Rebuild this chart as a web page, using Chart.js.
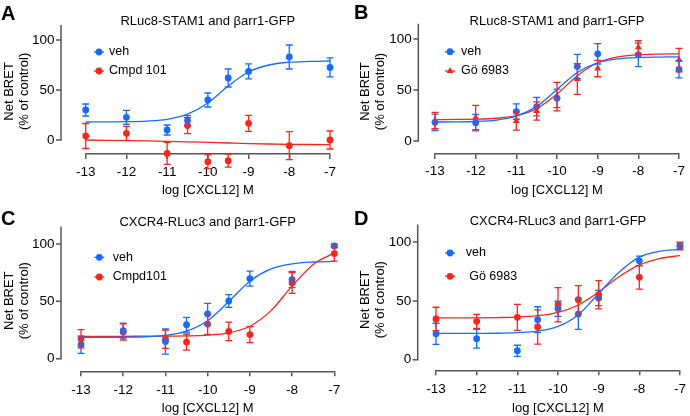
<!DOCTYPE html>
<html>
<head>
<meta charset="utf-8">
<script src="https://cdn.jsdelivr.net/npm/chart.js@4.4.1/dist/chart.umd.min.js"></script>
<style>
html,body{margin:0;padding:0;background:#fff;}
#wrap{position:relative;width:690px;height:416px;overflow:hidden;font-family:"Liberation Sans",Arial,Helvetica,sans-serif;}
.panel{position:absolute;width:345px;height:208px;}
.panel canvas{display:block;}
.letter{position:absolute;font-weight:bold;font-size:20px;line-height:20px;color:#000;}
</style>
</head>
<body>
<div id="wrap">
  <div class="panel" style="left:0;top:0"><canvas id="cA" width="345" height="208"></canvas></div>
  <div class="panel" style="left:345px;top:0"><canvas id="cB" width="345" height="208"></canvas></div>
  <div class="panel" style="left:0;top:208px"><canvas id="cC" width="345" height="208"></canvas></div>
  <div class="panel" style="left:345px;top:208px"><canvas id="cD" width="345" height="208"></canvas></div>
  <div class="letter" style="left:1px;top:3px">A</div>
  <div class="letter" style="left:354px;top:2px">B</div>
  <div class="letter" style="left:1px;top:208px">C</div>
  <div class="letter" style="left:354px;top:208px">D</div>
</div>
<script>
// ---------- shared axis values ----------
const logDose = [-13, -12, -11, -10.5, -10, -9.5, -9, -8, -7];
const fitDose = [-13, -12.5, -12, -11.5, -11, -10.5, -10, -9.5, -9, -8.5, -8, -7.5, -7];
const xTickValues = [-13, -12, -11, -10, -9, -8, -7];
const yTickValues = [0, 50, 100];
const yAxisRange = [0, 115];
const xAxisTitle = 'log [CXCL12] M';
const yAxisTitle = ['Net BRET', '(% of control)'];

// ---------- panel A ----------
const aTitle = 'RLuc8-STAM1 and βarr1-GFP';
const aLabels = ['veh', 'Cmpd 101'];
const aVehMean = [30, 22.7, 10, 19.4, 40, 62, 68.6, 83, 72.6];
const aVehSem  = [6, 7, 5, 5, 7, 9, 7.5, 12, 9.5];
const aCmpMean = [4, 6.7, -13.4, 14.4, -21.7, -20.7, 16.7, -5.7, 0];
const aCmpSem  = [12.5, 7, 11, 8, 7, 6.5, 8, 14, 9];
const aVehFit  = [18, 18.1, 18.3, 18.9, 20.6, 25.8, 37, 54, 68, 75, 77.8, 78.6, 79];
const aCmpFit  = [0, -0.3, -0.6, -0.9, -1.3, -1.8, -2.4, -3.0, -3.6, -4.0, -4.3, -4.5, -4.6];

// ---------- panel B ----------
const bTitle = 'RLuc8-STAM1 and βarr1-GFP';
const bLabels = ['veh', 'Gö 6983'];
const bVehMean = [18.3, 18, 28.8, 33.7, 41.8, 73, 85.5, 84.5, 70.3];
const bVehSem  = [8, 8, 7.5, 9, 9, 12, 10, 11.5, 8.5];
const bGoMean  = [20, 23, 19.6, 29.4, 43.5, 60.8, 71, 91.8, 79.4];
const bGoSem   = [8, 12, 9, 9, 14, 15, 8, 6.5, 11.5];
const bVehFit  = [18.6, 18.7, 19.1, 20.5, 24.3, 33.9, 50.5, 67.1, 76.7, 80.5, 81.9, 82.3, 82.5];
const bGoFit   = [21, 21.1, 21.4, 22.3, 24.8, 31.7, 46, 64, 76.7, 82.4, 84.5, 85.2, 85.4];

// ---------- panel C ----------
const cTitle = 'CXCR4-RLuc3 and βarr1-GFP';
const cLabels = ['veh', 'Cmpd101'];
const cVehMean = [12.2, 24.4, 15, 29.6, 39, 50.3, 69.8, 69, 98.3];
const cVehSem  = [7.5, 6.5, 11, 6.4, 9.3, 5.5, 6.5, 7, 1.5];
const cCmpMean = [17.4, 23.3, 17, 14.5, 30.2, 23.8, 21, 66, 91.6];
const cCmpSem  = [8, 7, 8, 7, 9, 8, 7, 9, 6.5];
const cVehFit  = [18.5, 18.6, 18.7, 19.1, 20.3, 24, 33.1, 49.8, 67.6, 78.3, 82.7, 84.3, 84.8];
const cCmpFit  = [19.5, 19.5, 19.5, 19.6, 19.6, 19.8, 20.5, 22.5, 28.3, 41.9, 63.3, 82.2, 92.2];

// ---------- panel D ----------
const dTitle = 'CXCR4-RLuc3 and βarr1-GFP';
const dLabels = ['veh', ' Gö 6983'];
const dVehMean = [22, 17.8, 7.6, 34, 43.3, 38.8, 52.4, 84, 97];
const dVehSem  = [9, 8, 4.7, 11, 6.4, 13, 6.5, 4, 3];
const dGoMean  = [34.6, 32.6, 36, 27.8, 46.7, 51, 55.2, 70, 96.3];
const dGoSem   = [10, 6, 11, 14.5, 14.5, 12, 12, 10, 3];
const dVehFit  = [22.3, 22.3, 22.4, 22.5, 23, 24.3, 28.3, 38.3, 56.3, 74.3, 87.2, 92.2, 93.8];
const dGoFit   = [35.5, 35.55, 35.6, 35.8, 36.2, 37.4, 40.2, 46.5, 57.5, 70.5, 80.6, 86, 88.4];

// ---------- styling ----------
const BLUE = 'rgb(22,108,255)';
const RED = 'rgb(255,36,26)';
const AXIS = '#555555';
const FONT = '"Liberation Sans", Arial, Helvetica, sans-serif';
const CAP = 3.5;

function toXY(xs, ys) { return xs.map((x, i) => ({ x: x, y: ys[i] })); }

// let markers that sit below the offset x axis still be drawn (Prism-style, no clipping)
const unclipPlugin = {
  id: 'unclip',
  beforeDatasetsDraw(chart) {
    const a = chart.chartArea;
    chart.$savedArea = a;
    chart.chartArea = { left: a.left - 40, top: a.top - 40, right: a.right + 40, bottom: a.bottom + 60,
      width: a.width + 80, height: a.height + 100 };
  },
  afterDatasetsDraw(chart) {
    if (chart.$savedArea) chart.chartArea = chart.$savedArea;
  }
};

const errorBarPlugin = {
  id: 'errorBars',
  afterDatasetsDraw(chart) {
    const { ctx, scales: { x, y } } = chart;
    chart.data.datasets.forEach(ds => {
      if (!ds.sem) return;
      ctx.save();
      ctx.strokeStyle = ds.borderColor;
      ctx.lineWidth = 1.3;
      ds.data.forEach((p, i) => {
        const px = x.getPixelForValue(p.x);
        const t = y.getPixelForValue(p.y + ds.sem[i]);
        const b = y.getPixelForValue(p.y - ds.sem[i]);
        ctx.beginPath();
        ctx.moveTo(px, t); ctx.lineTo(px, b);
        ctx.moveTo(px - CAP, t); ctx.lineTo(px + CAP, t);
        ctx.moveTo(px - CAP, b); ctx.lineTo(px + CAP, b);
        ctx.stroke();
      });
      ctx.restore();
    });
  }
};

const yAxisPlugin = {
  id: 'prismYAxis',
  afterDraw(chart, args, opts) {
    const { ctx, chartArea, scales: { y } } = chart;
    const ax = chartArea.left - opts.offset;
    const y0 = y.getPixelForValue(yAxisRange[0]);
    const y1 = y.getPixelForValue(yAxisRange[1]);
    ctx.save();
    ctx.strokeStyle = AXIS;
    ctx.lineWidth = 1.5;
    ctx.beginPath();
    ctx.moveTo(ax, y0 + 0.75);
    ctx.lineTo(ax, y1);
    yTickValues.forEach(v => {
      const py = y.getPixelForValue(v);
      ctx.moveTo(ax + 0.75, py);
      ctx.lineTo(ax - 5, py);
    });
    ctx.stroke();
    ctx.restore();
  }
};

const legendPlugin = {
  id: 'prismLegend',
  afterDraw(chart, args, opts) {
    const { ctx, chartArea } = chart;
    let row = 0;
    chart.data.datasets.forEach(ds => {
      if (!ds.sem) return;
      const cx = chartArea.left + opts.dx;
      const cy = chartArea.top + opts.dy + row * opts.gap;
      ctx.save();
      ctx.strokeStyle = ds.borderColor;
      ctx.lineWidth = 1.3;
      ctx.beginPath();
      ctx.moveTo(cx - 5, cy); ctx.lineTo(cx + 5, cy);
      ctx.stroke();
      ctx.fillStyle = ds.backgroundColor;
      Chart.helpers.drawPoint(ctx, { pointStyle: ds.pointStyle, radius: ds.pointRadius, borderWidth: 0, rotation: 0 }, cx, cy);
      ctx.fillStyle = '#000';
      ctx.font = '12.5px ' + FONT;
      ctx.textBaseline = 'middle';
      ctx.textAlign = 'left';
      ctx.fillText(ds.label, chartArea.left + opts.tdx, cy);
      ctx.restore();
      row++;
    });
  }
};

function noEdgePadding(s) { s.paddingTop = 0; s.paddingBottom = 0; s.paddingLeft = 0; s.paddingRight = 0; }

function makePanel(id, g, title, labels, m1, s1, m2, s2, f1, f2, style2) {
  const pt2 = style2 || 'circle';
  const datasets = [
    { type: 'scatter', label: labels[0], data: toXY(logDose, m1), sem: s1,
      backgroundColor: BLUE, borderColor: BLUE, pointStyle: 'circle', pointRadius: 3.4, pointBorderWidth: 0, borderWidth: 0, clip: false },
    { type: 'scatter', label: labels[1], data: toXY(logDose, m2), sem: s2,
      backgroundColor: RED, borderColor: RED, pointStyle: pt2, pointRadius: pt2 === 'triangle' ? 4 : 3.4, pointBorderWidth: 0, borderWidth: 0, clip: false },
    { type: 'line', label: labels[0] + ' fit', data: toXY(fitDose, f1), borderColor: BLUE, borderWidth: 1.3,
      pointRadius: 0, fill: false, cubicInterpolationMode: 'monotone', clip: false },
    { type: 'line', label: labels[1] + ' fit', data: toXY(fitDose, f2), borderColor: RED, borderWidth: 1.3,
      pointRadius: 0, fill: false, cubicInterpolationMode: 'monotone', clip: false }
  ];
  return new Chart(document.getElementById(id), {
    type: 'scatter',
    data: { datasets: datasets },
    options: {
      responsive: false,
      animation: false,
      devicePixelRatio: 1,
      layout: { padding: { left: 0, top: 0, bottom: 0, right: g.padRight } },
      scales: {
        x: {
          type: 'linear', position: 'bottom',
          min: xTickValues[0], max: xTickValues[xTickValues.length - 1],
          afterBuildTicks: s => { s.ticks = xTickValues.map(v => ({ value: v })); },
          afterFit: s => { s.height = g.xH; noEdgePadding(s); },
          ticks: { padding: g.xTickPad, color: '#000', font: { family: FONT, size: 13.5, lineHeight: 1.2 }, maxRotation: 0, autoSkip: false },
          grid: { display: true, drawOnChartArea: false, drawTicks: true, tickLength: 5, color: AXIS, lineWidth: 1.5 },
          border: { display: true, color: AXIS, width: 1.5 },
          title: { display: true, text: xAxisTitle, color: '#000', font: { family: FONT, size: 13, lineHeight: 1.2 }, padding: { top: 0, bottom: g.xTitlePad } }
        },
        y: {
          type: 'linear', position: 'left',
          min: g.yMin, max: g.yMax,
          afterBuildTicks: s => { s.ticks = yTickValues.map(v => ({ value: v })); },
          afterFit: s => { s.width = g.yW; noEdgePadding(s); },
          ticks: { padding: g.yTickPad, color: '#000', font: { family: FONT, size: 13.5, lineHeight: 1.2 } },
          grid: { display: false, drawTicks: false, tickLength: 0 },
          border: { display: false },
          title: { display: true, text: yAxisTitle, color: '#000', font: { family: FONT, size: 13, lineHeight: 1.115 }, padding: { top: g.yTitlePad, bottom: 0 } }
        }
      },
      plugins: {
        legend: { display: false },
        tooltip: { enabled: false },
        title: { display: true, text: title, fullSize: false, color: '#000', font: { family: FONT, size: 13, weight: 'normal', lineHeight: 1.2 }, padding: { top: g.titlePad, bottom: 0 } },
        prismYAxis: { offset: g.yAxisOff },
        prismLegend: g.legend
      }
    },
    plugins: [unclipPlugin, errorBarPlugin, yAxisPlugin, legendPlugin]
  });
}

makePanel('cA', { padRight: 15, xH: 54, yW: 85.7, yMin: -14, yMax: 111.2, titlePad: 13.2, xTickPad: 4.8, xTitlePad: 10.2,
  yTickPad: 31.2, yTitlePad: 2.25, yAxisOff: 24.7, legend: { dx: 13.3, dy: 23.2, gap: 19, tdx: 23.3 } },
  aTitle, aLabels, aVehMean, aVehSem, aCmpMean, aCmpSem, aVehFit, aCmpFit, 'circle');

makePanel('cB', { padRight: 11, xH: 54, yW: 90, yMin: -12.75, yMax: 109.7, titlePad: 13.5, xTickPad: 4.6, xTitlePad: 10.2,
  yTickPad: 23.2, yTitlePad: 13.5, yAxisOff: 16.7, legend: { dx: 15, dy: 22.6, gap: 19.3, tdx: 26 } },
  bTitle, bLabels, bVehMean, bVehSem, bGoMean, bGoSem, bVehFit, bGoFit, 'triangle');

makePanel('cC', { padRight: 10.7, xH: 44.7, yW: 81, yMin: -11, yMax: 112.1, titlePad: 6.5, xTickPad: 6.3, xTitlePad: 0,
  yTickPad: 26.5, yTitlePad: 2.25, yAxisOff: 20, legend: { dx: 18.3, dy: 27.2, gap: 19.7, tdx: 31.7 } },
  cTitle, cLabels, cVehMean, cVehSem, cCmpMean, cCmpSem, cVehFit, cCmpFit, 'circle');

makePanel('cD', { padRight: 10, xH: 45.7, yW: 91, yMin: -9, yMax: 111, titlePad: 5.5, xTickPad: 6.3, xTitlePad: 0,
  yTickPad: 24.8, yTitlePad: 13.5, yAxisOff: 18.3, legend: { dx: 14, dy: 23.9, gap: 23.3, tdx: 29.7 } },
  dTitle, dLabels, dVehMean, dVehSem, dGoMean, dGoSem, dVehFit, dGoFit, 'circle');
</script>
</body>
</html>
